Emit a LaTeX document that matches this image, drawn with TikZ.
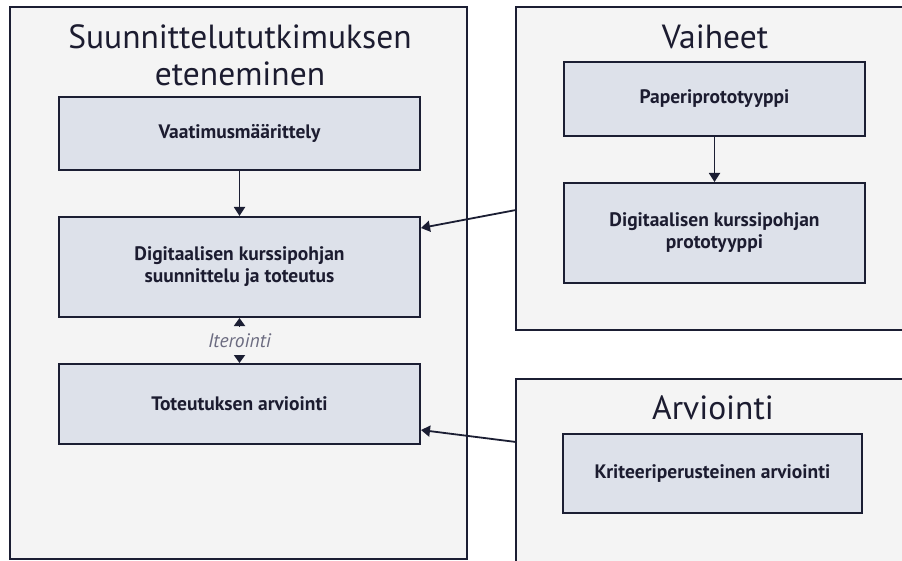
\documentclass[tikz,border=0pt]{standalone}
\usepackage{fontspec}
\setmainfont{PT Sans}
\usetikzlibrary{arrows.meta}
\definecolor{edge}{HTML}{1B1E33}
\definecolor{contfill}{HTML}{F4F4F4}
\definecolor{boxfill}{HTML}{DDE1EA}
\definecolor{txt}{HTML}{1C1C30}
\definecolor{itc}{HTML}{6B6B80}
\tikzset{
  container/.style={draw=edge, line width=2pt, fill=contfill},
  stepbox/.style={draw=edge, line width=2pt, fill=boxfill, text=txt, font=\bfseries\fontsize{19.5}{22}\selectfont, align=center, inner sep=0pt},
  ttl/.style={text=txt, font=\fontsize{33.5}{37}\selectfont, align=center, inner sep=0pt},
  conn/.style={draw=edge, line width=1.8pt, -{Triangle[length=9pt,width=11pt]}},
}
\begin{document}
\begin{tikzpicture}[x=1pt,y=-1pt]
\useasboundingbox (0,0) rectangle (902,561);
\clip (0,0) rectangle (902,561);
\fill[white] (0,0) rectangle (902,561);
% containers
\draw[container] (10,7) rectangle (467,559);
\draw[container] (516,7) rectangle (920,330);
\draw[container] (516,379) rectangle (920,580);
\node[ttl] (t1) at (240,55) {Suunnittelututkimuksen\\eteneminen};
\node[ttl] (t2) at (715,37) {Vaiheet};
\node[ttl] (t3) at (713,408) {Arviointi};
\coordinate (vaiheL) at (516,210);
\coordinate (arvL) at (516,442);
% boxes
\node[stepbox, minimum width=361pt, minimum height=73pt] (vaat) at (239.5,133.5) {Vaatimusmäärittely};
\node[stepbox, minimum width=361pt, minimum height=100pt] (digi) at (239.5,267) {Digitaalisen kurssipohjan\\suunnittelu ja toteutus};
\node[stepbox, minimum width=361pt, minimum height=80pt] (tot) at (239.5,404) {Toteutuksen arviointi};
\node[stepbox, minimum width=301pt, minimum height=74pt] (pap) at (714.5,99) {Paperiprototyyppi};
\node[stepbox, minimum width=301pt, minimum height=100pt] (dproto) at (714.5,233) {Digitaalisen kurssipohjan\\prototyyppi};
\node[stepbox, minimum width=299pt, minimum height=79pt] (krit) at (712.5,473.5) {Kriteeriperusteinen arviointi};
% connectors
\draw[conn] (vaat) -- (digi);
\draw[conn] (pap) -- (dproto);
\draw[conn] (vaiheL) -- (digi.east |- 0,228);
\draw[conn] (arvL) -- (tot.east |- 0,430);
\draw[draw=edge, line width=1.8pt, {Triangle[length=8pt,width=11pt]}-{Triangle[length=8pt,width=11pt]}] (digi) -- node[fill=contfill, text=itc, font=\itshape\fontsize{19.5}{22}\selectfont, minimum height=28pt, inner sep=1pt] (iter) {Iterointi} (tot);
\end{tikzpicture}
\end{document}
